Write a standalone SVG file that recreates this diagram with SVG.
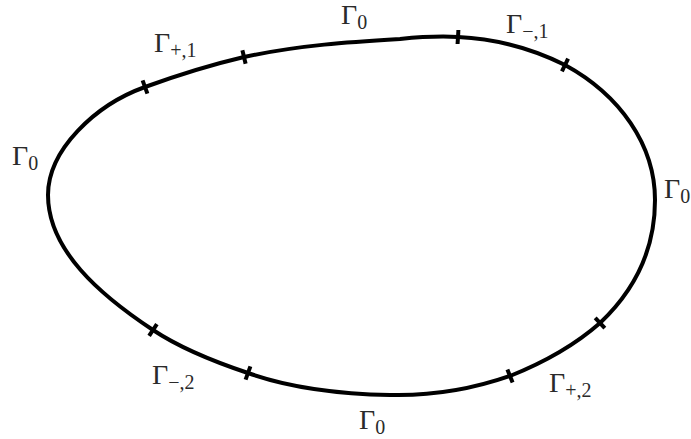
<svg xmlns="http://www.w3.org/2000/svg" width="691" height="439" viewBox="0 0 691 439">
<style>
.curve{fill:none;stroke:#000;stroke-width:4;stroke-linejoin:round}
.tick{stroke:#000;stroke-width:4;stroke-linecap:butt}
.lbl{font-family:"Liberation Serif","Times New Roman",serif;font-size:28px;fill:#2a2a2a}
.sub{font-size:20px}
</style>
<rect width="691" height="439" fill="#fff"/>
<g id="connectors">
<path id="boundary" class="curve" d="M48,195 C48,150 95,105 145,87 C178,75 210,65 244,57 C300,45 350,42 400,39 C420,37 440,36 458,37 C500,39 535,50 565,65 C620,95 655,145 655,200 C655,250 635,290 600,323 C575,345 545,362 510,376 C470,390 430,396 390,395 C340,394 290,388 248,373 C215,362 180,348 153,330 C100,295 48,250 48,195 Z"/>
</g>
<g id="ticks">
<line class="tick" x1="142.6" y1="80.4" x2="147.4" y2="93.6"/>
<line class="tick" x1="242.4" y1="50.2" x2="245.6" y2="63.8"/>
<line class="tick" x1="458.4" y1="30" x2="457.6" y2="44"/>
<line class="tick" x1="568.1" y1="58.7" x2="561.9" y2="71.3"/>
<line class="tick" x1="595.2" y1="317.9" x2="604.8" y2="328.1"/>
<line class="tick" x1="507.4" y1="369.5" x2="512.6" y2="382.5"/>
<line class="tick" x1="250.4" y1="366.4" x2="245.6" y2="379.6"/>
<line class="tick" x1="156.9" y1="324.2" x2="149.1" y2="335.8"/>
</g>
<g id="label-gp1"><text class="lbl" x="154" y="52">Γ<tspan class="sub" dy="5">+,1</tspan></text></g>
<g id="label-g0-top"><text class="lbl" x="341" y="24">Γ<tspan class="sub" dy="5">0</tspan></text></g>
<g id="label-gm1"><text class="lbl" x="506" y="33">Γ<tspan class="sub" dy="5">−,1</tspan></text></g>
<g id="label-g0-left"><text class="lbl" x="12" y="165">Γ<tspan class="sub" dy="5">0</tspan></text></g>
<g id="label-g0-right"><text class="lbl" x="664" y="198">Γ<tspan class="sub" dy="5">0</tspan></text></g>
<g id="label-gm2"><text class="lbl" x="152" y="384">Γ<tspan class="sub" dy="5">−,2</tspan></text></g>
<g id="label-g0-bottom"><text class="lbl" x="359" y="429">Γ<tspan class="sub" dy="5">0</tspan></text></g>
<g id="label-gp2"><text class="lbl" x="549" y="392">Γ<tspan class="sub" dy="5">+,2</tspan></text></g>
</svg>
